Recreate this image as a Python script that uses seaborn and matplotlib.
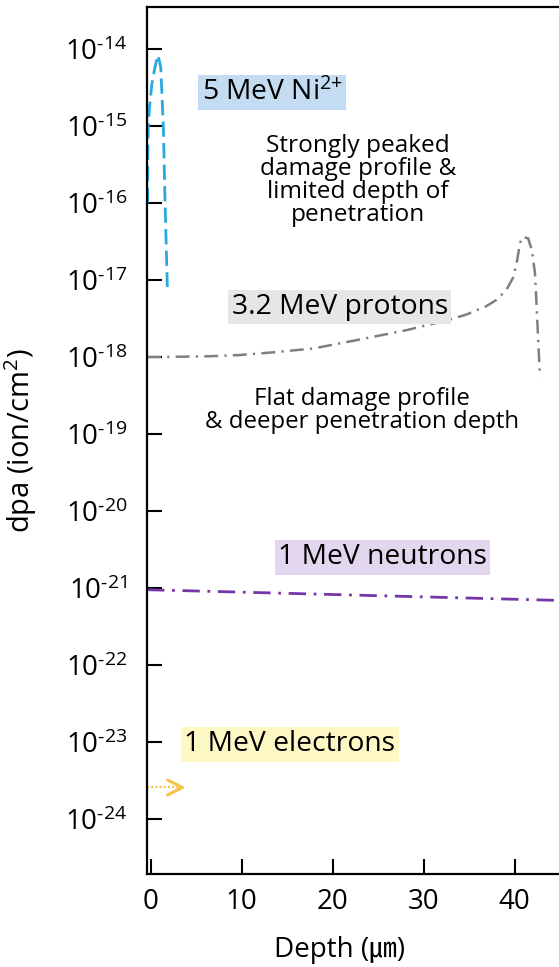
import matplotlib
matplotlib.use("Agg")
import matplotlib.pyplot as plt
import matplotlib.ticker as mticker
from matplotlib.path import Path
import numpy as np
import pandas as pd
import seaborn as sns

# ---------------- data ----------------
ni_depth = [-0.32, -0.30, -0.25, -0.10, 0.15, 0.50, 0.82, 1.12, 1.41, 1.60, 1.85]
ni_dpa = [1.0e-16, 3.2e-16, 1.0e-15, 1.8e-15, 3.5e-15, 5.9e-15, 8.3e-15,
          5.9e-15, 1.0e-15, 1.0e-16, 8.1e-18]

proton_depth = [-0.38, 1.0, 6.2, 9.8, 13.5, 17.9, 22.7, 28.2, 32.7, 34.7, 36.9,
                38.0, 39.1, 39.9, 40.3, 40.6, 40.9, 41.5, 41.9, 42.25, 42.4,
                42.6, 42.8]
proton_dpa = [1.0e-18, 1.0e-18, 1.02e-18, 1.06e-18, 1.15e-18, 1.29e-18, 1.66e-18,
              2.24e-18, 3.02e-18, 3.55e-18, 4.57e-18, 5.5e-18, 7.41e-18, 1.10e-17,
              1.82e-17, 3.02e-17, 3.63e-17, 3.47e-17, 2.45e-17, 1.23e-17, 5.5e-18,
              1.66e-18, 5.5e-19]

neutron_depth = [-0.38, 22.3, 44.9]
neutron_dpa = [9.5e-22, 8.1e-22, 6.9e-22]

electron_depth = [-0.38, 3.5]
electron_dpa = [2.6e-24, 2.6e-24]

decades = [-24, -23, -22, -21, -20, -19, -18, -17, -16, -15, -14]
x_ticks = [0, 10, 20, 30, 40]

labels = {
    "ni": r"5 MeV Ni$^{2{+}}$",
    "proton": "3.2 MeV protons",
    "neutron": "1 MeV neutrons",
    "electron": "1 MeV electrons",
}
note_ni = "Strongly peaked\ndamage profile &\nlimited depth of\npenetration"
note_proton = "Flat damage profile\n& deeper penetration depth"

# ---------------- style ----------------
sns.set_style("ticks")
plt.rcParams["font.family"] = ["Open Sans", "Noto Sans CJK KR", "DejaVu Sans"]
plt.rcParams["font.weight"] = "medium"
plt.rcParams["mathtext.default"] = "regular"
plt.rcParams["lines.scale_dashes"] = False
plt.rcParams["text.color"] = "black"
plt.rcParams["axes.labelcolor"] = "black"
plt.rcParams["xtick.color"] = "black"
plt.rcParams["ytick.color"] = "black"

fig = plt.figure(figsize=(5.59, 9.67), dpi=100)
ax = fig.add_axes([147 / 559, 93 / 967, 412 / 559, 867 / 967])

c_ni = "#2aa9e0"
c_pr = "#7f7f7f"
c_ne = "#7536a8"
c_el = "#f7c24a"

df_ni = pd.DataFrame({"depth": ni_depth, "dpa": ni_dpa})
df_pr = pd.DataFrame({"depth": proton_depth, "dpa": proton_dpa})
df_ne = pd.DataFrame({"depth": neutron_depth, "dpa": neutron_dpa})
df_el = pd.DataFrame({"depth": electron_depth, "dpa": electron_dpa})

sns.lineplot(data=df_ni, x="depth", y="dpa", ax=ax, sort=False, estimator=None,
             color=c_ni, lw=2.0, linestyle=(0, (11, 4.5)))
sns.lineplot(data=df_pr, x="depth", y="dpa", ax=ax, sort=False, estimator=None,
             color=c_pr, lw=1.8, linestyle=(0, (10, 4.5, 1.6, 4.5)))
sns.lineplot(data=df_ne, x="depth", y="dpa", ax=ax, sort=False, estimator=None,
             color=c_ne, lw=2.0, linestyle=(0, (12.5, 5.5, 2, 5.5)))
sns.lineplot(data=df_el, x="depth", y="dpa", ax=ax, sort=False, estimator=None,
             color=c_el, lw=1.6, linestyle=(0, (1.5, 1.5)))
chevron = Path([(-2, 1), (0, 0), (-2, -1)], [Path.MOVETO, Path.LINETO, Path.LINETO])
ax.plot(electron_depth[-1:], electron_dpa[-1:], linestyle="none", marker=chevron,
        markersize=23, markerfacecolor="none", markeredgecolor=c_el, markeredgewidth=2.2)

ax.set_yscale("log")
ax.set_xlim(-0.385, 44.89)
ax.set_ylim(10 ** -24.714, 10 ** -13.455)

ax.set_yticks([10.0 ** d for d in decades])
ax.yaxis.set_major_formatter(mticker.FuncFormatter(
    lambda v, p: "$10^{\u2010%d}$" % abs(int(round(np.log10(v))))))
ax.yaxis.set_minor_locator(mticker.NullLocator())
ax.set_xticks(x_ticks)
ax.set_xticklabels([str(t) for t in x_ticks])

ax.tick_params(axis="both", direction="in", length=10.8, width=1.5,
               labelsize=20, colors="black")
ax.tick_params(axis="y", pad=14)
ax.tick_params(axis="x", pad=10)

for s in ["left", "bottom", "top"]:
    ax.spines[s].set_linewidth(1.6)
    ax.spines[s].set_color("black")
ax.spines["right"].set_visible(False)

ax.set_xlabel("Depth (㎛)", fontsize=20)
ax.xaxis.set_label_coords(193 / 412, -0.072)
ax.set_ylabel("dpa (ion/cm$^2$)", fontsize=21)
ax.yaxis.set_label_coords(-0.262, 0.5)

def lg(v):
    return 10 ** v

box_kw = dict(boxstyle="square,pad=0.12", ec="none")
ax.text(13.4, lg(-14.565), labels["ni"], fontsize=20.3, ha="center", va="center",
        bbox=dict(fc="#c4dcf2", **box_kw))
ax.text(20.8, lg(-17.35), labels["proton"], fontsize=20.3, ha="center", va="center",
        bbox=dict(fc="#e6e6e6", **box_kw))
ax.text(25.5, lg(-20.60), labels["neutron"], fontsize=20.3, ha="center", va="center",
        bbox=dict(fc="#e2d7ee", **box_kw))
ax.text(15.3, lg(-23.03), labels["electron"], fontsize=20.3, ha="center", va="center",
        bbox=dict(fc="#fdf8c4", **box_kw))

ax.text(22.8, lg(-15.71), note_ni, fontsize=17.6, ha="center", va="center",
        multialignment="center", linespacing=0.95)
ax.text(23.2, lg(-18.69), note_proton, fontsize=17.3, ha="center", va="center",
        multialignment="center", linespacing=0.95)

fig.savefig("out.png", dpi=100)
